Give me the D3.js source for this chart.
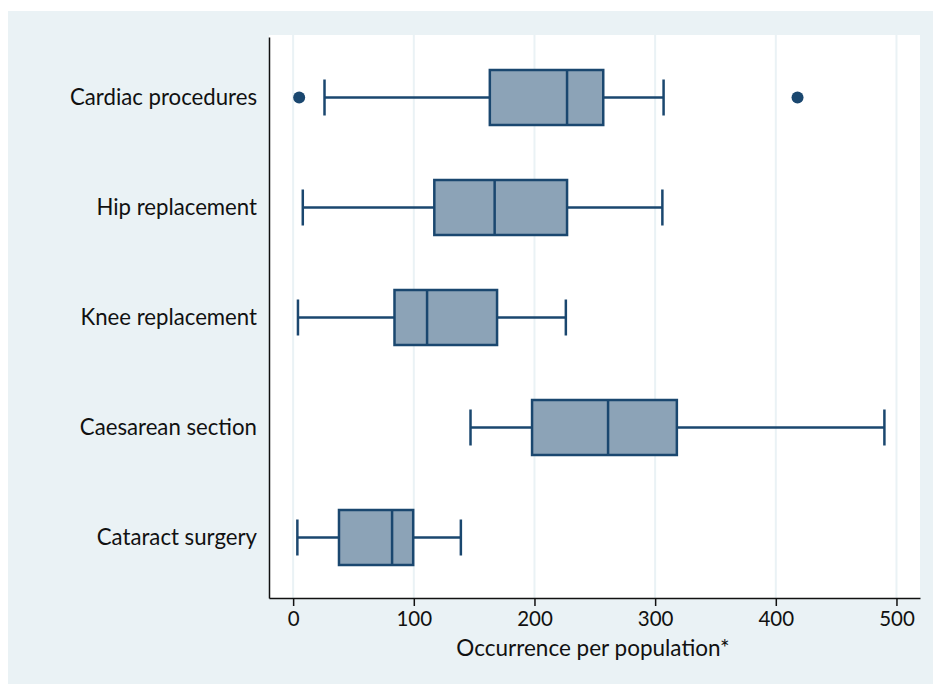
<!DOCTYPE html>
<html>
<head>
<meta charset="utf-8">
<script src="https://cdn.jsdelivr.net/npm/d3@7"></script>
<style>
body { margin: 0; background: #fff; }
text { font-family: Lato, "Open Sans", sans-serif; fill: #111; }
</style>
</head>
<body>
<svg id="chart" width="933" height="684"></svg>
<script>
// procedure names, top to bottom
var categories = ["Cardiac procedures", "Hip replacement", "Knee replacement", "Caesarean section", "Cataract surgery"];
// box statistics
var whiskerLow = [26, 8, 4, 147, 3.5];
var q1 = [163, 117, 84, 198, 38];
var median = [227, 167, 111, 261, 82];
var q3 = [257, 227, 169, 318, 99.5];
var whiskerHigh = [307, 306, 226, 490, 139];
// outside values: [category index, value]
var outliers = [[0, 5], [0, 418]];
var xTicks = [0, 100, 200, 300, 400, 500];

var svg = d3.select("#chart");
var navy = "#1a476f";

svg.append("rect")
	.attr("x", 8).attr("y", 11)
	.attr("width", 925).attr("height", 673)
	.attr("fill", "#eaf2f5");

var plotLeft = 269, plotRight = 920, plotTop = 35, plotBottom = 598;

svg.append("rect")
	.attr("x", plotLeft).attr("y", plotTop)
	.attr("width", plotRight - plotLeft).attr("height", plotBottom - plotTop)
	.attr("fill", "#fff");

var x = d3.scaleLinear().domain([-20, 519.5]).range([plotLeft, plotRight]);
var y = d3.scalePoint().domain(categories).range([plotTop + 2, plotBottom]).padding(0.55);

// grid
svg.append("g").selectAll("line")
	.data(xTicks)
	.enter().append("line")
	.attr("x1", function(d) { return x(d); })
	.attr("x2", function(d) { return x(d); })
	.attr("y1", plotTop).attr("y2", plotBottom)
	.attr("stroke", "#eaf2f5")
	.attr("stroke-width", 2);

// x axis
var xAxis = svg.append("g")
	.attr("transform", "translate(0," + plotBottom + ")")
	.call(d3.axisBottom(x).tickValues(xTicks).tickSize(8).tickPadding(5).tickSizeOuter(0));
xAxis.select(".domain").attr("stroke", "#111").attr("stroke-width", 1.5);
xAxis.selectAll(".tick line").attr("stroke", "#111").attr("stroke-width", 1.5);
xAxis.selectAll("text").attr("font-size", 20.5).attr("font-family", "Lato, sans-serif").attr("fill", "#111");

// y axis
var yAxis = svg.append("g")
	.attr("transform", "translate(" + plotLeft + ",0)")
	.call(d3.axisLeft(y).tickSize(0).tickPadding(12));
yAxis.select(".domain").attr("stroke", "#111").attr("stroke-width", 1.5);
yAxis.selectAll("text").attr("font-size", 22.2).attr("font-family", "Lato, sans-serif").attr("fill", "#111");

svg.append("text")
	.attr("x", 593).attr("y", 656)
	.attr("text-anchor", "middle")
	.attr("font-size", 22.5)
	.text("Occurrence per population*");

var boxH = 55, capH = 36;

var boxes = svg.append("g").selectAll("g")
	.data(categories)
	.enter().append("g")
	.attr("transform", function(d) { return "translate(0," + y(d) + ")"; });

// whisker lines
boxes.append("line")
	.attr("x1", function(d, i) { return x(whiskerLow[i]); })
	.attr("x2", function(d, i) { return x(q1[i]); })
	.attr("stroke", navy).attr("stroke-width", 2.5);
boxes.append("line")
	.attr("x1", function(d, i) { return x(q3[i]); })
	.attr("x2", function(d, i) { return x(whiskerHigh[i]); })
	.attr("stroke", navy).attr("stroke-width", 2.5);

// caps
boxes.append("line")
	.attr("x1", function(d, i) { return x(whiskerLow[i]); })
	.attr("x2", function(d, i) { return x(whiskerLow[i]); })
	.attr("y1", -capH / 2).attr("y2", capH / 2)
	.attr("stroke", navy).attr("stroke-width", 2.5);
boxes.append("line")
	.attr("x1", function(d, i) { return x(whiskerHigh[i]); })
	.attr("x2", function(d, i) { return x(whiskerHigh[i]); })
	.attr("y1", -capH / 2).attr("y2", capH / 2)
	.attr("stroke", navy).attr("stroke-width", 2.5);

// box
boxes.append("rect")
	.attr("x", function(d, i) { return x(q1[i]); })
	.attr("width", function(d, i) { return x(q3[i]) - x(q1[i]); })
	.attr("y", -boxH / 2).attr("height", boxH)
	.attr("fill", "#8ca3b7")
	.attr("stroke", navy).attr("stroke-width", 2.5);

// median
boxes.append("line")
	.attr("x1", function(d, i) { return x(median[i]); })
	.attr("x2", function(d, i) { return x(median[i]); })
	.attr("y1", -boxH / 2).attr("y2", boxH / 2)
	.attr("stroke", navy).attr("stroke-width", 2.5);

// outside values
svg.append("g").selectAll("circle")
	.data(outliers)
	.enter().append("circle")
	.attr("cx", function(d) { return x(d[1]); })
	.attr("cy", function(d) { return y(categories[d[0]]); })
	.attr("r", 6)
	.attr("fill", navy);
</script>
</body>
</html>
